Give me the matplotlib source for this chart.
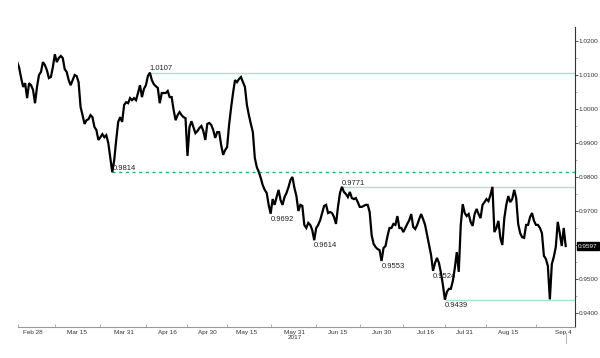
import numpy as np
import pandas as pd
import matplotlib
matplotlib.use('Agg')
import matplotlib.pyplot as plt
from matplotlib.transforms import blended_transform_factory

plt.rcParams['font.family'] = ['Liberation Sans', 'DejaVu Sans']

# 2017 trading days, two readings per day, starting Wed 22 Feb
start_day = '2017-02-22'
price = [
    1.0138, 1.0121, 1.0091, 1.0065, 1.0076, 1.0032, 1.0076, 1.0070, 1.0056, 1.0017,
    1.0065, 1.0100, 1.0109, 1.0138, 1.0129, 1.0114, 1.0091, 1.0094, 1.0123, 1.0161,
    1.0138, 1.0150, 1.0156, 1.0150, 1.0117, 1.0109, 1.0085, 1.0070, 1.0085, 1.0100,
    1.0097, 1.0079, 1.0006, 0.9982, 0.9956, 0.9967, 0.9970, 0.9982, 0.9976, 0.9947,
    0.9938, 0.9909, 0.9917, 0.9926, 0.9917, 0.9923, 0.9900, 0.9856, 0.9814, 0.9850,
    0.9909, 0.9962, 0.9976, 0.9962, 1.0012, 1.0020, 1.0017, 1.0032, 1.0026, 1.0032,
    1.0026, 1.0047, 1.0070, 1.0035, 1.0059, 1.0070, 1.0097, 1.0107, 1.0085, 1.0073,
    1.0067, 1.0062, 1.0017, 1.0047, 1.0047, 1.0047, 1.0053, 1.0035, 1.0035, 0.9997,
    0.9967, 0.9982, 0.9991, 0.9982, 0.9976, 0.9973, 0.9862, 0.9947, 0.9964, 0.9947,
    0.9929, 0.9935, 0.9944, 0.9950, 0.9935, 0.9909, 0.9956, 0.9959, 0.9953, 0.9938,
    0.9915, 0.9932, 0.9932, 0.9894, 0.9865, 0.9879, 0.9888, 0.9953, 1.0003, 1.0047,
    1.0085, 1.0079, 1.0088, 1.0094, 1.0079, 1.0065, 1.0012, 0.9982, 0.9956, 0.9932,
    0.9856, 0.9829, 0.9815, 0.9797, 0.9776, 0.9762, 0.9753, 0.9718, 0.9692, 0.9735,
    0.9718, 0.9741, 0.9762, 0.9732, 0.9718, 0.9741, 0.9753, 0.9770, 0.9791, 0.9800,
    0.9768, 0.9744, 0.9700, 0.9718, 0.9715, 0.9659, 0.9650, 0.9665, 0.9659, 0.9644,
    0.9614, 0.9650, 0.9659, 0.9673, 0.9694, 0.9715, 0.9718, 0.9694, 0.9697, 0.9694,
    0.9682, 0.9662, 0.9712, 0.9753, 0.9771, 0.9756, 0.9750, 0.9741, 0.9756, 0.9738,
    0.9735, 0.9738, 0.9726, 0.9712, 0.9712, 0.9715, 0.9718, 0.9718, 0.9697, 0.9629,
    0.9603, 0.9594, 0.9588, 0.9585, 0.9553, 0.9591, 0.9597, 0.9626, 0.9650, 0.9650,
    0.9662, 0.9659, 0.9685, 0.9650, 0.9650, 0.9638, 0.9650, 0.9662, 0.9673, 0.9691,
    0.9653, 0.9647, 0.9659, 0.9676, 0.9691, 0.9676, 0.9659, 0.9629, 0.9600, 0.9571,
    0.9524, 0.9547, 0.9562, 0.9547, 0.9518, 0.9482, 0.9439, 0.9462, 0.9471, 0.9471,
    0.9494, 0.9532, 0.9579, 0.9521, 0.9659, 0.9720, 0.9694, 0.9685, 0.9691, 0.9668,
    0.9656, 0.9691, 0.9706, 0.9691, 0.9679, 0.9718, 0.9726, 0.9735, 0.9729, 0.9747,
    0.9771, 0.9638, 0.9650, 0.9671, 0.9621, 0.9600, 0.9679, 0.9718, 0.9744, 0.9726,
    0.9735, 0.9762, 0.9738, 0.9662, 0.9635, 0.9623, 0.9621, 0.9659, 0.9659, 0.9682,
    0.9694, 0.9671, 0.9659, 0.9659, 0.9650, 0.9635, 0.9568, 0.9559, 0.9538, 0.9440,
    0.9544, 0.9565, 0.9594, 0.9668, 0.9635, 0.9597, 0.9650, 0.9597,
]

# labelled highs / lows: (sample index, value, 'hi'/'lo', draw level line)
marks = [
    (67, 1.0107, 'hi', 'solid'),
    (48, 0.9814, 'hi', 'dashed'),
    (128, 0.9692, 'lo', None),
    (164, 0.9771, 'hi', 'solid'),
    (150, 0.9614, 'lo', None),
    (184, 0.9553, 'lo', None),
    (210, 0.9524, 'lo', None),
    (216, 0.9439, 'lo', 'solid'),
]

tick_dates = ['2017-02-28', '2017-03-15', '2017-03-31', '2017-04-16', '2017-04-30',
              '2017-05-15', '2017-05-31', '2017-06-15', '2017-06-30', '2017-07-16',
              '2017-07-31', '2017-08-15', '2017-09-04']
tick_labels = ['Feb 28', 'Mar 15', 'Mar 31', 'Apr 16', 'Apr 30', 'May 15', 'May 31\n2017',
               'Jun 15', 'Jun 30', 'Jul 16', 'Jul 31', 'Aug 15', 'Sep 4']

last_price = price[-1]

# x axis = trading-day index
x = np.arange(len(price)) / 2.0
bdays = pd.bdate_range(start_day, periods=150)
tick_pos = np.array([bdays.searchsorted(pd.Timestamp(d)) for d in tick_dates], dtype=float)
x_lo, x_hi = 0.2, 140.8
y_lo, y_hi = 0.93588, 1.02412

fig = plt.figure(figsize=(6.0, 3.58), dpi=100)
ax = fig.add_axes([0.03, 0.0866, 0.928, 0.838])

ax.plot(x, price, color='black', linewidth=1.6, solid_joinstyle='miter', zorder=3)

solid_c = '#a6e3cf'
dash_c = '#1fb36b'
for idx, val, kind, line in marks:
    xv = x[idx]
    if line == 'solid':
        ax.hlines(val, xv, x_hi, color=solid_c, linewidth=1.0, zorder=2)
    elif line == 'dashed':
        ax.hlines(val, xv, x_hi, color=dash_c, linewidth=1.0, linestyles=(0, (2.2, 2.6)), zorder=2)
    if kind == 'hi':
        ax.text(xv, val + 0.0001, f'{val:.4f}', fontsize=5.5, ha='left', va='bottom',
                color='#222222', zorder=1)
    else:
        ax.text(xv, val - 0.0006, f'{val:.4f}', fontsize=5.5, ha='left', va='top',
                color='#222222', zorder=1)

ax.set_xlim(x_lo, x_hi)
ax.set_ylim(y_lo, y_hi)

# y axis on the right
ax.yaxis.tick_right()
ax.set_yticks(np.arange(0.94, 1.0201, 0.01))
ax.set_yticks(np.arange(0.945, 1.02, 0.01), minor=True)
ax.yaxis.set_major_formatter(matplotlib.ticker.FormatStrFormatter('%.4f'))
ax.tick_params(axis='y', which='major', labelsize=4.6, length=2, width=0.6, pad=1,
               colors='#333333', direction='out')
ax.tick_params(axis='y', which='minor', length=1.5, width=0.5, color='#888888')

# x axis: labels centred, marks between periods
ax.set_xticks(tick_pos)
ax.set_xticklabels(tick_labels)
bounds = np.concatenate([[x_lo], (tick_pos[:-1] + tick_pos[1:]) / 2])
ax.set_xticks(bounds, minor=True)
ax.tick_params(axis='x', which='major', length=0, labelsize=4.6, pad=2.5, colors='#333333')
ax.tick_params(axis='x', which='minor', length=2, width=0.5, color='#888888', direction='in')
for lbl in ax.get_xticklabels():
    lbl.set_linespacing(0.9)

for s in ['top', 'left']:
    ax.spines[s].set_visible(False)
ax.spines['right'].set_color('#333333')
ax.spines['right'].set_linewidth(0.8)
ax.spines['bottom'].set_color('#999999')
ax.spines['bottom'].set_linewidth(0.8)

# last price tag
tr = blended_transform_factory(ax.transAxes, ax.transData)
ax.text(1.006, last_price, f'{last_price:.4f}', transform=tr, fontsize=4.6, color='white',
        ha='left', va='center', clip_on=False, zorder=10,
        bbox=dict(boxstyle='square,pad=0.25', facecolor='black', edgecolor='black'))

# current-day marker below the axis
tr2 = blended_transform_factory(ax.transData, ax.transAxes)
ax.plot([x[-1], x[-1]], [-0.02, -0.055], transform=tr2, color='#bbbbbb',
        linewidth=0.8, clip_on=False)

fig.savefig('out.png', dpi=100)
